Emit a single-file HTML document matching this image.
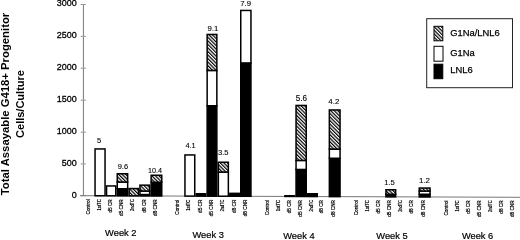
<!DOCTYPE html><html><head><meta charset="utf-8"><style>html,body{margin:0;padding:0;background:#fff;}svg{display:block;filter:grayscale(100%);}</style></head><body>
<svg width="520" height="240" viewBox="0 0 520 240">
<defs><pattern id="hp" patternUnits="userSpaceOnUse" width="2.5" height="10" patternTransform="rotate(-45)"><rect width="2.5" height="10" fill="#fff"/><rect width="1.2" height="10" fill="#000"/></pattern></defs>
<rect width="520" height="240" fill="#fff"/>
<g font-family='"Liberation Sans", sans-serif' font-weight="bold" fill="#000">
<text transform="translate(9.3,104) rotate(-90)" text-anchor="middle" font-size="11.3">Total Assayable G418+ Progenitor</text>
<text transform="translate(23.8,104) rotate(-90)" text-anchor="middle" font-size="11.0">Cells/Culture</text>
</g>
<g font-family='"Liberation Sans", sans-serif' font-size="9.6" fill="#000" stroke="#000" stroke-width="0.3" text-anchor="end">
<text x="76.7" y="6.30" textLength="20.0" lengthAdjust="spacingAndGlyphs">3000</text>
<text x="76.7" y="38.20" textLength="20.0" lengthAdjust="spacingAndGlyphs">2500</text>
<text x="76.7" y="70.00" textLength="20.0" lengthAdjust="spacingAndGlyphs">2000</text>
<text x="76.7" y="102.00" textLength="20.0" lengthAdjust="spacingAndGlyphs">1500</text>
<text x="76.7" y="134.00" textLength="20.0" lengthAdjust="spacingAndGlyphs">1000</text>
<text x="76.7" y="165.70" textLength="15.0" lengthAdjust="spacingAndGlyphs">500</text>
<text x="76.7" y="197.50" textLength="5.0" lengthAdjust="spacingAndGlyphs">0</text>
</g>
<g stroke="#777" stroke-width="1" fill="none">
<line x1="83.4" y1="4.5" x2="83.4" y2="195.70"/>
<line x1="80.6" y1="4.5" x2="86" y2="4.5" stroke="#999"/>
<line x1="80.6" y1="36.4" x2="86" y2="36.4" stroke="#999"/>
<line x1="80.6" y1="68.2" x2="86" y2="68.2" stroke="#999"/>
<line x1="80.6" y1="100.2" x2="86" y2="100.2" stroke="#999"/>
<line x1="80.6" y1="132.2" x2="86" y2="132.2" stroke="#999"/>
<line x1="80.6" y1="163.9" x2="86" y2="163.9" stroke="#999"/>
<line x1="80.6" y1="195.7" x2="86" y2="195.7" stroke="#999"/>
<line x1="80" y1="195.69" x2="520" y2="197.30"/>
</g>
<rect x="95.05" y="148.95" width="10.00" height="46.81" fill="#fff" stroke="#000" stroke-width="1.5"/>
<rect x="106.55" y="185.95" width="9.20" height="9.85" fill="#fff" stroke="#000" stroke-width="1.5"/>
<rect x="117.25" y="188.75" width="10.40" height="7.09" fill="#000" stroke="#000" stroke-width="1.5"/>
<rect x="117.25" y="182.05" width="10.40" height="6.70" fill="#fff" stroke="#000" stroke-width="1.5"/>
<rect x="117.25" y="173.75" width="10.40" height="8.30" fill="url(#hp)" stroke="#000" stroke-width="1.5"/>
<rect x="129.15" y="188.55" width="9.30" height="7.34" fill="url(#hp)" stroke="#000" stroke-width="1.5"/>
<rect x="139.95" y="194.55" width="9.70" height="1.38" fill="#000" stroke="#000" stroke-width="1.5"/>
<rect x="139.95" y="191.05" width="9.70" height="3.50" fill="#fff" stroke="#000" stroke-width="1.5"/>
<rect x="139.95" y="185.15" width="9.70" height="5.90" fill="url(#hp)" stroke="#000" stroke-width="1.5"/>
<rect x="151.15" y="182.25" width="10.60" height="13.72" fill="#000" stroke="#000" stroke-width="1.5"/>
<rect x="151.15" y="175.25" width="10.60" height="7.00" fill="url(#hp)" stroke="#000" stroke-width="1.5"/>
<rect x="184.95" y="154.95" width="9.80" height="41.14" fill="#fff" stroke="#000" stroke-width="1.5"/>
<rect x="196.25" y="193.75" width="9.40" height="2.38" fill="#000" stroke="#000" stroke-width="1.5"/>
<rect x="207.15" y="105.75" width="9.70" height="90.42" fill="#000" stroke="#000" stroke-width="1.5"/>
<rect x="207.15" y="70.45" width="9.70" height="35.30" fill="#fff" stroke="#000" stroke-width="1.5"/>
<rect x="207.15" y="34.45" width="9.70" height="36.00" fill="url(#hp)" stroke="#000" stroke-width="1.5"/>
<rect x="218.35" y="172.05" width="10.00" height="24.17" fill="#fff" stroke="#000" stroke-width="1.5"/>
<rect x="218.35" y="162.25" width="10.00" height="9.80" fill="url(#hp)" stroke="#000" stroke-width="1.5"/>
<rect x="229.85" y="193.35" width="9.40" height="2.91" fill="#000" stroke="#000" stroke-width="1.5"/>
<rect x="240.75" y="62.95" width="10.20" height="133.35" fill="#000" stroke="#000" stroke-width="1.5"/>
<rect x="240.75" y="10.45" width="10.20" height="52.50" fill="#fff" stroke="#000" stroke-width="1.5"/>
<rect x="284.95" y="195.75" width="9.60" height="0.71" fill="#000" stroke="#000" stroke-width="1.5"/>
<rect x="296.05" y="169.45" width="10.20" height="27.05" fill="#000" stroke="#000" stroke-width="1.5"/>
<rect x="296.05" y="160.45" width="10.20" height="9.00" fill="#fff" stroke="#000" stroke-width="1.5"/>
<rect x="296.05" y="105.45" width="10.20" height="55.00" fill="url(#hp)" stroke="#000" stroke-width="1.5"/>
<rect x="307.75" y="193.75" width="9.50" height="2.79" fill="#000" stroke="#000" stroke-width="1.5"/>
<rect x="329.35" y="158.25" width="10.70" height="38.37" fill="#000" stroke="#000" stroke-width="1.5"/>
<rect x="329.35" y="149.05" width="10.70" height="9.20" fill="#fff" stroke="#000" stroke-width="1.5"/>
<rect x="329.35" y="109.95" width="10.70" height="39.10" fill="url(#hp)" stroke="#000" stroke-width="1.5"/>
<rect x="385.95" y="194.25" width="9.70" height="2.58" fill="#000" stroke="#000" stroke-width="1.5"/>
<rect x="385.95" y="189.75" width="9.70" height="4.50" fill="url(#hp)" stroke="#000" stroke-width="1.5"/>
<rect x="419.25" y="194.25" width="10.80" height="2.70" fill="#000" stroke="#000" stroke-width="1.5"/>
<rect x="419.25" y="191.05" width="10.80" height="3.20" fill="#fff" stroke="#000" stroke-width="1.5"/>
<rect x="419.25" y="188.05" width="10.80" height="3.00" fill="url(#hp)" stroke="#000" stroke-width="1.5"/>
<g font-family='"Liberation Sans", sans-serif' font-size="8.2" fill="#000" stroke="#000" stroke-width="0.1" text-anchor="middle">
<text x="99.2" y="142.5" font-size="7.5">5</text>
<text x="122.85" y="168.6" font-size="7.5">9.6</text>
<text x="154.9" y="173.1" font-size="7.2">10.4</text>
<text x="190.6" y="147.6" font-size="7.4">4.1</text>
<text x="212.8" y="31.4" font-size="7.8">9.1</text>
<text x="223.25" y="155.0" font-size="7.6">3.5</text>
<text x="245.55" y="6.3" font-size="7.8">7.9</text>
<text x="301.45" y="101.3" font-size="8.2">5.6</text>
<text x="333.85" y="104.2" font-size="7.9">4.2</text>
<text x="389.5" y="184.5" font-size="7.6">1.5</text>
<text x="424.4" y="182.5" font-size="7.9">1.2</text>
</g>
<g font-family='"Liberation Sans", sans-serif' font-size="4.7" fill="#000" stroke="#000" stroke-width="0.2" text-anchor="end">
<text transform="translate(89.65,199.3) rotate(-90)">Control</text>
<text transform="translate(100.55,199.3) rotate(-90)" textLength="11.2" lengthAdjust="spacingAndGlyphs">1stTC</text>
<text transform="translate(111.75,199.3) rotate(-90)">d5 CR</text>
<text transform="translate(123.35,199.3) rotate(-90)">d5 CNR</text>
<text transform="translate(133.95,199.3) rotate(-90)" textLength="11.6" lengthAdjust="spacingAndGlyphs">2ndTC</text>
<text transform="translate(145.55,199.3) rotate(-90)">d8 CR</text>
<text transform="translate(156.75,199.3) rotate(-90)">d8 CNR</text>
<text transform="translate(179.25,199.6) rotate(-90)">Control</text>
<text transform="translate(190.15,199.6) rotate(-90)" textLength="11.2" lengthAdjust="spacingAndGlyphs">1stTC</text>
<text transform="translate(201.75,199.6) rotate(-90)">d5 CR</text>
<text transform="translate(213.05,199.6) rotate(-90)">d5 CNR</text>
<text transform="translate(224.25,199.6) rotate(-90)" textLength="11.6" lengthAdjust="spacingAndGlyphs">2ndTC</text>
<text transform="translate(235.55,199.6) rotate(-90)">d8 CR</text>
<text transform="translate(246.75,199.6) rotate(-90)">d8 CNR</text>
<text transform="translate(268.95,200.0) rotate(-90)">Control</text>
<text transform="translate(279.65,200.0) rotate(-90)" textLength="11.2" lengthAdjust="spacingAndGlyphs">1stTC</text>
<text transform="translate(290.95,200.0) rotate(-90)">d5 CR</text>
<text transform="translate(301.85,200.0) rotate(-90)">d5 CNR</text>
<text transform="translate(312.55,200.0) rotate(-90)" textLength="11.6" lengthAdjust="spacingAndGlyphs">2ndTC</text>
<text transform="translate(323.25,200.0) rotate(-90)">d8 CR</text>
<text transform="translate(335.05,200.0) rotate(-90)">d8 CNR</text>
<text transform="translate(358.05,200.2) rotate(-90)">Control</text>
<text transform="translate(368.75,200.2) rotate(-90)" textLength="11.2" lengthAdjust="spacingAndGlyphs">1stTC</text>
<text transform="translate(379.65,200.2) rotate(-90)">d5 CR</text>
<text transform="translate(390.95,200.2) rotate(-90)">d5 CNR</text>
<text transform="translate(402.15,200.2) rotate(-90)" textLength="11.6" lengthAdjust="spacingAndGlyphs">2ndTC</text>
<text transform="translate(413.25,200.2) rotate(-90)">d8 CR</text>
<text transform="translate(425.05,200.2) rotate(-90)">d8 CNR</text>
<text transform="translate(448.25,200.4) rotate(-90)">Control</text>
<text transform="translate(458.65,200.4) rotate(-90)" textLength="11.2" lengthAdjust="spacingAndGlyphs">1stTC</text>
<text transform="translate(469.55,200.4) rotate(-90)">d5 CR</text>
<text transform="translate(480.85,200.4) rotate(-90)">d5 CNR</text>
<text transform="translate(492.05,200.4) rotate(-90)" textLength="11.6" lengthAdjust="spacingAndGlyphs">2ndTC</text>
<text transform="translate(503.35,200.4) rotate(-90)">d8 CR</text>
<text transform="translate(513.65,200.4) rotate(-90)">d8 CNR</text>
</g>
<g font-family='"Liberation Sans", sans-serif' font-size="9.3" fill="#000" stroke="#000" stroke-width="0.2" text-anchor="middle">
<text x="120.8" y="236.3">Week 2</text>
<text x="208.2" y="237.9">Week 3</text>
<text x="298.95" y="238.5">Week 4</text>
<text x="392.0" y="238.75">Week 5</text>
<text x="477.6" y="239.0">Week 6</text>
</g>
<rect x="426.7" y="18.7" width="85.8" height="69" fill="#fff" stroke="#222" stroke-width="1"/>
<rect x="434" y="26.3" width="8.8" height="14.5" fill="url(#hp)" stroke="#000" stroke-width="1"/>
<rect x="434" y="46.3" width="9" height="14.9" fill="#fff" stroke="#000" stroke-width="1"/>
<rect x="434" y="64.2" width="8.8" height="14.5" fill="#000" stroke="#000" stroke-width="1"/>
<g font-family='"Liberation Sans", sans-serif' font-size="9.4" fill="#000" stroke="#000" stroke-width="0.25">
<text x="450.2" y="35.8">G1Na/LNL6</text>
<text x="450.2" y="55.9">G1Na</text>
<text x="450.2" y="73.4">LNL6</text>
</g>
</svg></body></html>
